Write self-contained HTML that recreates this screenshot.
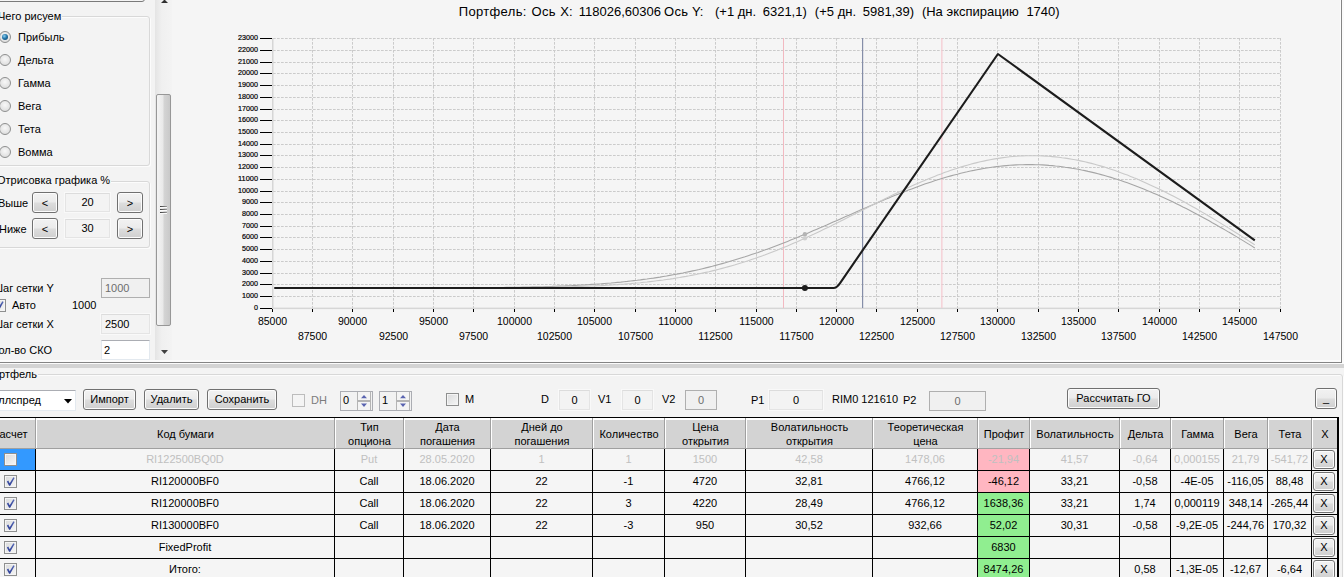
<!DOCTYPE html>
<html><head><meta charset="utf-8"><title>Options</title>
<style>
html,body{margin:0;padding:0}
body{width:1344px;height:577px;overflow:hidden;position:relative;background:#f3f3f3;font-family:"Liberation Sans",sans-serif;font-size:11px;color:#000;line-height:13px}
.abs,.abs *{position:absolute}
#root{position:absolute;left:0;top:0;width:1344px;height:577px;overflow:hidden}
#root>*{position:absolute}
.t{position:absolute;white-space:nowrap}
.tt{font-size:13px;line-height:15px}
.gb{position:absolute;border:1px solid #d8d8d8;border-radius:3px;box-sizing:border-box;box-shadow:inset 1px 1px 0 #fcfcfc,1px 1px 0 #fcfcfc}
.gbl{position:absolute;background:#f3f3f3;white-space:nowrap;padding:0 1px}
.rb{position:absolute;width:12px;height:12px;border-radius:50%;border:1px solid #8e8f8f;box-sizing:border-box;background:radial-gradient(circle at 50% 40%,#f8f8f8 0,#e4e4e4 60%,#d2d2d2 100%)}
.rb.on:after{content:"";position:absolute;left:2px;top:2px;width:6px;height:6px;border-radius:50%;background:radial-gradient(circle at 38% 35%,#8fd0f0 0,#2477ab 45%,#0d3a5c 100%)}
.btn{position:absolute;box-sizing:border-box;border:1px solid #707070;border-radius:3px;background:linear-gradient(#f2f2f2 0,#ebebeb 48%,#dddddd 52%,#cfcfcf 100%);box-shadow:inset 0 0 0 1px #fcfcfc;text-align:center;white-space:nowrap;font-weight:normal}
.tb{position:absolute;box-sizing:border-box;border:1px solid #e3e9ef;border-top-color:#abadb3;background:#fff;white-space:nowrap}
.tb.ro{background:#f3f3f3;border:1px solid #e4e4e4;border-top-color:#dcdcdc;box-shadow:0 0 0 1px #f9f9f9}
.tb.dis{background:#f0f0f0;border:1px solid #afafaf;color:#6d6d6d}
.cb{position:absolute;width:13px;height:13px;box-sizing:border-box;border:1px solid #8e8f8f;background:linear-gradient(135deg,#d9dadb 0,#f6f6f6 100%);box-shadow:inset 0 0 0 1px #f4f4f4}
.cb.on:after{content:"";position:absolute;left:-1px;top:-1px;width:13px;height:13px;background:linear-gradient(#6074bd,#23338f);clip-path:polygon(2.8px 6.6px,4.3px 5.4px,5.7px 8.2px,9.4px 2.2px,10.6px 3.1px,6.2px 10.8px,5.1px 10.8px)}
.tbl{position:absolute;background:#000}
.th{position:absolute;box-sizing:border-box;background:#d3d3d3;border-top:2px solid #fff;border-left:1px solid #fff;display:flex;align-items:center;justify-content:center;text-align:center;line-height:14px;font-size:11px}
.td{position:absolute;background:#f5f5f5;text-align:center;line-height:21px;font-size:11px;white-space:nowrap;overflow:hidden}
.td.dis{color:#c0c0c0}
.spin{position:absolute;width:14px;height:18px;box-sizing:border-box;border-left:1px solid #b4b4b4;border-right:1px solid #b4b4b4;background:#f4f4f4}
.spin:before{content:"";position:absolute;left:0;top:8px;width:12px;height:2px;background:#b4b4b4}
.spin:after{content:"";position:absolute;left:3px;top:3px;width:6px;height:12px;background:#5a64b0;clip-path:polygon(3px 0,6px 3.2px,0 3.2px,3px 0,3px 12px,0 8.6px,6px 8.6px,3px 12px)}
.xb{left:1px;top:1px;width:22px;height:19px;line-height:17px;font-size:11px}
</style></head><body><div id="root">
<!-- chart panel -->
<div style="left:172px;top:0;width:1168px;height:360px;background:#f5f5f5"></div><div style="left:1340px;top:0;width:1px;height:362px;background:#fbfbfb"></div><div style="left:1341px;top:0;width:1px;height:363px;background:#858585"></div><div style="left:1342px;top:0;width:2px;height:364px;background:#fbfbfb"></div>
<svg id="chart" width="1344" height="362" viewBox="0 0 1344 362" style="position:absolute;left:0;top:0">
<g stroke="#cbcbcb" stroke-width="1" stroke-dasharray="2.7,1.3"><line x1="273" x2="1281" y1="308.5" y2="308.5"/><line x1="273" x2="1281" y1="296.5" y2="296.5"/><line x1="273" x2="1281" y1="284.5" y2="284.5"/><line x1="273" x2="1281" y1="273.5" y2="273.5"/><line x1="273" x2="1281" y1="261.5" y2="261.5"/><line x1="273" x2="1281" y1="249.5" y2="249.5"/><line x1="273" x2="1281" y1="237.5" y2="237.5"/><line x1="273" x2="1281" y1="226.5" y2="226.5"/><line x1="273" x2="1281" y1="214.5" y2="214.5"/><line x1="273" x2="1281" y1="202.5" y2="202.5"/><line x1="273" x2="1281" y1="191.5" y2="191.5"/><line x1="273" x2="1281" y1="179.5" y2="179.5"/><line x1="273" x2="1281" y1="167.5" y2="167.5"/><line x1="273" x2="1281" y1="155.5" y2="155.5"/><line x1="273" x2="1281" y1="144.5" y2="144.5"/><line x1="273" x2="1281" y1="132.5" y2="132.5"/><line x1="273" x2="1281" y1="120.5" y2="120.5"/><line x1="273" x2="1281" y1="109.5" y2="109.5"/><line x1="273" x2="1281" y1="97.5" y2="97.5"/><line x1="273" x2="1281" y1="85.5" y2="85.5"/><line x1="273" x2="1281" y1="73.5" y2="73.5"/><line x1="273" x2="1281" y1="62.5" y2="62.5"/><line x1="273" x2="1281" y1="50.5" y2="50.5"/><line x1="273" x2="1281" y1="38.5" y2="38.5"/><line y1="38" y2="308" x1="312.5" x2="312.5"/><line y1="38" y2="308" x1="352.5" x2="352.5"/><line y1="38" y2="308" x1="393.5" x2="393.5"/><line y1="38" y2="308" x1="433.5" x2="433.5"/><line y1="38" y2="308" x1="473.5" x2="473.5"/><line y1="38" y2="308" x1="514.5" x2="514.5"/><line y1="38" y2="308" x1="554.5" x2="554.5"/><line y1="38" y2="308" x1="594.5" x2="594.5"/><line y1="38" y2="308" x1="635.5" x2="635.5"/><line y1="38" y2="308" x1="675.5" x2="675.5"/><line y1="38" y2="308" x1="715.5" x2="715.5"/><line y1="38" y2="308" x1="756.5" x2="756.5"/><line y1="38" y2="308" x1="796.5" x2="796.5"/><line y1="38" y2="308" x1="836.5" x2="836.5"/><line y1="38" y2="308" x1="876.5" x2="876.5"/><line y1="38" y2="308" x1="917.5" x2="917.5"/><line y1="38" y2="308" x1="957.5" x2="957.5"/><line y1="38" y2="308" x1="997.5" x2="997.5"/><line y1="38" y2="308" x1="1038.5" x2="1038.5"/><line y1="38" y2="308" x1="1078.5" x2="1078.5"/><line y1="38" y2="308" x1="1118.5" x2="1118.5"/><line y1="38" y2="308" x1="1159.5" x2="1159.5"/><line y1="38" y2="308" x1="1199.5" x2="1199.5"/><line y1="38" y2="308" x1="1239.5" x2="1239.5"/><line y1="38" y2="308" x1="1280.5" x2="1280.5"/></g>
<rect x="272" y="38" width="1.5" height="271" fill="#d6d6d6"/><rect x="272" y="307.6" width="1009" height="1.5" fill="#d6d6d6"/>
<g fill="#000" shape-rendering="crispEdges"><rect x="260" y="308" width="12" height="1"/><rect x="260" y="296" width="12" height="1"/><rect x="260" y="284" width="12" height="1"/><rect x="260" y="273" width="12" height="1"/><rect x="260" y="261" width="12" height="1"/><rect x="260" y="249" width="12" height="1"/><rect x="260" y="237" width="12" height="1"/><rect x="260" y="226" width="12" height="1"/><rect x="260" y="214" width="12" height="1"/><rect x="260" y="202" width="12" height="1"/><rect x="260" y="191" width="12" height="1"/><rect x="260" y="179" width="12" height="1"/><rect x="260" y="167" width="12" height="1"/><rect x="260" y="155" width="12" height="1"/><rect x="260" y="144" width="12" height="1"/><rect x="260" y="132" width="12" height="1"/><rect x="260" y="120" width="12" height="1"/><rect x="260" y="109" width="12" height="1"/><rect x="260" y="97" width="12" height="1"/><rect x="260" y="85" width="12" height="1"/><rect x="260" y="73" width="12" height="1"/><rect x="260" y="62" width="12" height="1"/><rect x="260" y="50" width="12" height="1"/><rect x="260" y="38" width="12" height="1"/> <rect x="272" y="309" width="1" height="3"/><rect x="312" y="309" width="1" height="3"/><rect x="352" y="309" width="1" height="3"/><rect x="393" y="309" width="1" height="3"/><rect x="433" y="309" width="1" height="3"/><rect x="473" y="309" width="1" height="3"/><rect x="514" y="309" width="1" height="3"/><rect x="554" y="309" width="1" height="3"/><rect x="594" y="309" width="1" height="3"/><rect x="635" y="309" width="1" height="3"/><rect x="675" y="309" width="1" height="3"/><rect x="715" y="309" width="1" height="3"/><rect x="756" y="309" width="1" height="3"/><rect x="796" y="309" width="1" height="3"/><rect x="836" y="309" width="1" height="3"/><rect x="876" y="309" width="1" height="3"/><rect x="917" y="309" width="1" height="3"/><rect x="957" y="309" width="1" height="3"/><rect x="997" y="309" width="1" height="3"/><rect x="1038" y="309" width="1" height="3"/><rect x="1078" y="309" width="1" height="3"/><rect x="1118" y="309" width="1" height="3"/><rect x="1159" y="309" width="1" height="3"/><rect x="1199" y="309" width="1" height="3"/><rect x="1239" y="309" width="1" height="3"/><rect x="1280" y="309" width="1" height="3"/></g>
<g font-family="Liberation Sans, sans-serif" font-size="7.6px" fill="#000" stroke="#000" stroke-width="0.2"><text x="258" y="309.9" text-anchor="end" textLength="4.0" lengthAdjust="spacingAndGlyphs">0</text><text x="258" y="297.9" text-anchor="end" textLength="16.0" lengthAdjust="spacingAndGlyphs">1000</text><text x="258" y="285.9" text-anchor="end" textLength="16.0" lengthAdjust="spacingAndGlyphs">2000</text><text x="258" y="274.9" text-anchor="end" textLength="16.0" lengthAdjust="spacingAndGlyphs">3000</text><text x="258" y="262.9" text-anchor="end" textLength="16.0" lengthAdjust="spacingAndGlyphs">4000</text><text x="258" y="250.9" text-anchor="end" textLength="16.0" lengthAdjust="spacingAndGlyphs">5000</text><text x="258" y="238.9" text-anchor="end" textLength="16.0" lengthAdjust="spacingAndGlyphs">6000</text><text x="258" y="227.9" text-anchor="end" textLength="16.0" lengthAdjust="spacingAndGlyphs">7000</text><text x="258" y="215.9" text-anchor="end" textLength="16.0" lengthAdjust="spacingAndGlyphs">8000</text><text x="258" y="203.9" text-anchor="end" textLength="16.0" lengthAdjust="spacingAndGlyphs">9000</text><text x="258" y="192.9" text-anchor="end" textLength="20.0" lengthAdjust="spacingAndGlyphs">10000</text><text x="258" y="180.9" text-anchor="end" textLength="20.0" lengthAdjust="spacingAndGlyphs">11000</text><text x="258" y="168.9" text-anchor="end" textLength="20.0" lengthAdjust="spacingAndGlyphs">12000</text><text x="258" y="156.9" text-anchor="end" textLength="20.0" lengthAdjust="spacingAndGlyphs">13000</text><text x="258" y="145.9" text-anchor="end" textLength="20.0" lengthAdjust="spacingAndGlyphs">14000</text><text x="258" y="133.9" text-anchor="end" textLength="20.0" lengthAdjust="spacingAndGlyphs">15000</text><text x="258" y="121.9" text-anchor="end" textLength="20.0" lengthAdjust="spacingAndGlyphs">16000</text><text x="258" y="110.9" text-anchor="end" textLength="20.0" lengthAdjust="spacingAndGlyphs">17000</text><text x="258" y="98.9" text-anchor="end" textLength="20.0" lengthAdjust="spacingAndGlyphs">18000</text><text x="258" y="86.9" text-anchor="end" textLength="20.0" lengthAdjust="spacingAndGlyphs">19000</text><text x="258" y="74.9" text-anchor="end" textLength="20.0" lengthAdjust="spacingAndGlyphs">20000</text><text x="258" y="63.9" text-anchor="end" textLength="20.0" lengthAdjust="spacingAndGlyphs">21000</text><text x="258" y="51.9" text-anchor="end" textLength="20.0" lengthAdjust="spacingAndGlyphs">22000</text><text x="258" y="39.9" text-anchor="end" textLength="20.0" lengthAdjust="spacingAndGlyphs">23000</text></g>
<g font-family="Liberation Sans, sans-serif" font-size="10.5px" fill="#000"><text x="272.5" y="324.6" text-anchor="middle">85000</text><text x="312.5" y="340.4" text-anchor="middle">87500</text><text x="352.5" y="324.6" text-anchor="middle">90000</text><text x="393.5" y="340.4" text-anchor="middle">92500</text><text x="433.5" y="324.6" text-anchor="middle">95000</text><text x="473.5" y="340.4" text-anchor="middle">97500</text><text x="514.5" y="324.6" text-anchor="middle">100000</text><text x="554.5" y="340.4" text-anchor="middle">102500</text><text x="594.5" y="324.6" text-anchor="middle">105000</text><text x="635.5" y="340.4" text-anchor="middle">107500</text><text x="675.5" y="324.6" text-anchor="middle">110000</text><text x="715.5" y="340.4" text-anchor="middle">112500</text><text x="756.5" y="324.6" text-anchor="middle">115000</text><text x="796.5" y="340.4" text-anchor="middle">117500</text><text x="836.5" y="324.6" text-anchor="middle">120000</text><text x="876.5" y="340.4" text-anchor="middle">122500</text><text x="917.5" y="324.6" text-anchor="middle">125000</text><text x="957.5" y="340.4" text-anchor="middle">127500</text><text x="997.5" y="324.6" text-anchor="middle">130000</text><text x="1038.5" y="340.4" text-anchor="middle">132500</text><text x="1078.5" y="324.6" text-anchor="middle">135000</text><text x="1118.5" y="340.4" text-anchor="middle">137500</text><text x="1159.5" y="324.6" text-anchor="middle">140000</text><text x="1199.5" y="340.4" text-anchor="middle">142500</text><text x="1239.5" y="324.6" text-anchor="middle">145000</text><text x="1280.5" y="340.4" text-anchor="middle">147500</text></g>
<rect x="783" y="38" width="1" height="270" fill="#f2b9c1"/>
<rect x="941.2" y="38" width="1.3" height="270" fill="#f6ccd3"/>
<rect x="862" y="38" width="1.2" height="270" fill="#858ea8"/>
<path d="M274.3,288.0 L277.6,288.0 L280.9,288.0 L284.2,288.0 L287.4,288.0 L290.7,288.0 L294.0,288.0 L297.2,288.0 L300.5,288.0 L303.8,288.0 L307.0,288.0 L310.3,288.0 L313.6,288.0 L316.8,288.0 L320.1,288.0 L323.4,288.0 L326.6,288.0 L329.9,288.0 L333.2,288.0 L336.4,288.0 L339.7,288.0 L343.0,288.0 L346.2,288.0 L349.5,288.0 L352.8,288.0 L356.1,288.0 L359.3,288.0 L362.6,288.0 L365.9,288.0 L369.1,288.0 L372.4,288.0 L375.7,288.0 L378.9,288.0 L382.2,288.0 L385.5,288.0 L388.7,288.0 L392.0,288.0 L395.3,288.0 L398.5,288.0 L401.8,288.0 L405.1,288.0 L408.3,288.0 L411.6,288.0 L414.9,288.0 L418.2,288.0 L421.4,288.0 L424.7,288.0 L428.0,288.0 L431.2,288.0 L434.5,287.9 L437.8,287.9 L441.0,287.9 L444.3,287.9 L447.6,287.9 L450.8,287.9 L454.1,287.9 L457.4,287.9 L460.6,287.8 L463.9,287.8 L467.2,287.8 L470.4,287.8 L473.7,287.8 L477.0,287.7 L480.2,287.7 L483.5,287.7 L486.8,287.7 L490.1,287.6 L493.3,287.6 L496.6,287.6 L499.9,287.5 L503.1,287.5 L506.4,287.4 L509.7,287.4 L512.9,287.3 L516.2,287.3 L519.5,287.2 L522.7,287.1 L526.0,287.1 L529.3,287.0 L532.5,286.9 L535.8,286.9 L539.1,286.8 L542.3,286.7 L545.6,286.6 L548.9,286.5 L552.2,286.4 L555.4,286.2 L558.7,286.1 L562.0,286.0 L565.2,285.9 L568.5,285.7 L571.8,285.6 L575.0,285.4 L578.3,285.2 L581.6,285.0 L584.8,284.9 L588.1,284.7 L591.4,284.4 L594.6,284.2 L597.9,284.0 L601.2,283.8 L604.4,283.5 L607.7,283.2 L611.0,283.0 L614.2,282.7 L617.5,282.4 L620.8,282.1 L624.1,281.7 L627.3,281.4 L630.6,281.0 L633.9,280.6 L637.1,280.3 L640.4,279.9 L643.7,279.4 L646.9,279.0 L650.2,278.5 L653.5,278.1 L656.7,277.6 L660.0,277.1 L663.3,276.5 L666.5,276.0 L669.8,275.4 L673.1,274.8 L676.3,274.2 L679.6,273.6 L682.9,273.0 L686.1,272.3 L689.4,271.6 L692.7,270.9 L696.0,270.2 L699.2,269.5 L702.5,268.7 L705.8,267.9 L709.0,267.1 L712.3,266.3 L715.6,265.4 L718.8,264.5 L722.1,263.6 L725.4,262.7 L728.6,261.8 L731.9,260.8 L735.2,259.8 L738.4,258.8 L741.7,257.8 L745.0,256.8 L748.2,255.7 L751.5,254.6 L754.8,253.5 L758.1,252.4 L761.3,251.2 L764.6,250.1 L767.9,248.9 L771.1,247.7 L774.4,246.4 L777.7,245.2 L780.9,244.0 L784.2,242.7 L787.5,241.4 L790.7,240.1 L794.0,238.8 L797.3,237.4 L800.5,236.1 L803.8,234.7 L807.1,233.4 L810.3,232.0 L813.6,230.6 L816.9,229.2 L820.1,227.8 L823.4,226.4 L826.7,225.0 L830.0,223.5 L833.2,222.1 L836.5,220.7 L839.8,219.2 L843.0,217.8 L846.3,216.3 L849.6,214.9 L852.8,213.5 L856.1,212.0 L859.4,210.6 L862.6,209.1 L865.9,207.7 L869.2,206.3 L872.4,204.9 L875.7,203.5 L879.0,202.1 L882.2,200.7 L885.5,199.3 L888.8,198.0 L892.1,196.6 L895.3,195.3 L898.6,194.0 L901.9,192.7 L905.1,191.4 L908.4,190.1 L911.7,188.9 L914.9,187.7 L918.2,186.5 L921.5,185.3 L924.7,184.1 L928.0,183.0 L931.3,181.9 L934.5,180.8 L937.8,179.8 L941.1,178.8 L944.3,177.8 L947.6,176.8 L950.9,175.9 L954.1,175.0 L957.4,174.2 L960.7,173.3 L964.0,172.5 L967.2,171.8 L970.5,171.0 L973.8,170.4 L977.0,169.7 L980.3,169.1 L983.6,168.5 L986.8,168.0 L990.1,167.5 L993.4,167.0 L996.6,166.6 L999.9,166.2 L1003.2,165.9 L1006.4,165.6 L1009.7,165.3 L1013.0,165.1 L1016.2,164.9 L1019.5,164.8 L1022.8,164.7 L1026.0,164.6 L1029.3,164.6 L1032.6,164.6 L1035.9,164.7 L1039.1,164.8 L1042.4,164.9 L1045.7,165.1 L1048.9,165.4 L1052.2,165.6 L1055.5,166.0 L1058.7,166.3 L1062.0,166.7 L1065.3,167.2 L1068.5,167.6 L1071.8,168.2 L1075.1,168.7 L1078.3,169.3 L1081.6,170.0 L1084.9,170.6 L1088.1,171.4 L1091.4,172.1 L1094.7,172.9 L1098.0,173.7 L1101.2,174.6 L1104.5,175.5 L1107.8,176.5 L1111.0,177.4 L1114.3,178.4 L1117.6,179.5 L1120.8,180.6 L1124.1,181.7 L1127.4,182.8 L1130.6,184.0 L1133.9,185.2 L1137.2,186.5 L1140.4,187.8 L1143.7,189.1 L1147.0,190.4 L1150.2,191.8 L1153.5,193.2 L1156.8,194.6 L1160.0,196.0 L1163.3,197.5 L1166.6,199.0 L1169.9,200.6 L1173.1,202.1 L1176.4,203.7 L1179.7,205.3 L1182.9,207.0 L1186.2,208.6 L1189.5,210.3 L1192.7,212.0 L1196.0,213.7 L1199.3,215.5 L1202.5,217.2 L1205.8,219.0 L1209.1,220.8 L1212.3,222.7 L1215.6,224.5 L1218.9,226.4 L1222.1,228.2 L1225.4,230.1 L1228.7,232.1 L1232.0,234.0 L1235.2,235.9 L1238.5,237.9 L1241.8,239.9 L1245.0,241.9 L1248.3,243.9 L1251.6,245.9 L1254.8,248.0" fill="none" stroke="#a6a6a6" stroke-width="1.1"/>
<path d="M274.3,288.0 L277.6,288.0 L280.9,288.0 L284.2,288.0 L287.4,288.0 L290.7,288.0 L294.0,288.0 L297.2,288.0 L300.5,288.0 L303.8,288.0 L307.0,288.0 L310.3,288.0 L313.6,288.0 L316.8,288.0 L320.1,288.0 L323.4,288.0 L326.6,288.0 L329.9,288.0 L333.2,288.0 L336.4,288.0 L339.7,288.0 L343.0,288.0 L346.2,288.0 L349.5,288.0 L352.8,288.0 L356.1,288.0 L359.3,288.0 L362.6,288.0 L365.9,288.0 L369.1,288.0 L372.4,288.0 L375.7,288.0 L378.9,288.0 L382.2,288.0 L385.5,288.0 L388.7,288.0 L392.0,288.0 L395.3,288.0 L398.5,288.0 L401.8,288.0 L405.1,288.0 L408.3,288.0 L411.6,288.0 L414.9,288.0 L418.2,288.0 L421.4,288.0 L424.7,288.0 L428.0,288.0 L431.2,288.0 L434.5,288.0 L437.8,288.0 L441.0,288.0 L444.3,288.0 L447.6,288.0 L450.8,288.0 L454.1,288.0 L457.4,288.0 L460.6,288.0 L463.9,288.0 L467.2,288.0 L470.4,288.0 L473.7,287.9 L477.0,287.9 L480.2,287.9 L483.5,287.9 L486.8,287.9 L490.1,287.9 L493.3,287.9 L496.6,287.9 L499.9,287.8 L503.1,287.8 L506.4,287.8 L509.7,287.8 L512.9,287.7 L516.2,287.7 L519.5,287.7 L522.7,287.7 L526.0,287.6 L529.3,287.6 L532.5,287.5 L535.8,287.5 L539.1,287.5 L542.3,287.4 L545.6,287.3 L548.9,287.3 L552.2,287.2 L555.4,287.2 L558.7,287.1 L562.0,287.0 L565.2,286.9 L568.5,286.8 L571.8,286.7 L575.0,286.6 L578.3,286.5 L581.6,286.4 L584.8,286.3 L588.1,286.2 L591.4,286.0 L594.6,285.9 L597.9,285.7 L601.2,285.6 L604.4,285.4 L607.7,285.2 L611.0,285.0 L614.2,284.8 L617.5,284.6 L620.8,284.3 L624.1,284.1 L627.3,283.8 L630.6,283.6 L633.9,283.3 L637.1,283.0 L640.4,282.7 L643.7,282.3 L646.9,282.0 L650.2,281.6 L653.5,281.2 L656.7,280.8 L660.0,280.4 L663.3,280.0 L666.5,279.5 L669.8,279.1 L673.1,278.6 L676.3,278.0 L679.6,277.5 L682.9,276.9 L686.1,276.4 L689.4,275.8 L692.7,275.1 L696.0,274.5 L699.2,273.8 L702.5,273.1 L705.8,272.4 L709.0,271.7 L712.3,270.9 L715.6,270.1 L718.8,269.3 L722.1,268.4 L725.4,267.5 L728.6,266.6 L731.9,265.7 L735.2,264.8 L738.4,263.8 L741.7,262.8 L745.0,261.7 L748.2,260.7 L751.5,259.6 L754.8,258.5 L758.1,257.3 L761.3,256.2 L764.6,255.0 L767.9,253.7 L771.1,252.5 L774.4,251.2 L777.7,249.9 L780.9,248.6 L784.2,247.3 L787.5,245.9 L790.7,244.5 L794.0,243.1 L797.3,241.7 L800.5,240.2 L803.8,238.8 L807.1,237.3 L810.3,235.8 L813.6,234.3 L816.9,232.7 L820.1,231.2 L823.4,229.6 L826.7,228.0 L830.0,226.4 L833.2,224.8 L836.5,223.2 L839.8,221.6 L843.0,219.9 L846.3,218.3 L849.6,216.6 L852.8,215.0 L856.1,213.3 L859.4,211.7 L862.6,210.0 L865.9,208.4 L869.2,206.7 L872.4,205.1 L875.7,203.4 L879.0,201.8 L882.2,200.2 L885.5,198.5 L888.8,196.9 L892.1,195.3 L895.3,193.8 L898.6,192.2 L901.9,190.7 L905.1,189.1 L908.4,187.6 L911.7,186.1 L914.9,184.6 L918.2,183.2 L921.5,181.8 L924.7,180.4 L928.0,179.0 L931.3,177.7 L934.5,176.4 L937.8,175.1 L941.1,173.9 L944.3,172.6 L947.6,171.5 L950.9,170.3 L954.1,169.2 L957.4,168.2 L960.7,167.1 L964.0,166.1 L967.2,165.2 L970.5,164.3 L973.8,163.4 L977.0,162.6 L980.3,161.8 L983.6,161.1 L986.8,160.4 L990.1,159.7 L993.4,159.1 L996.6,158.6 L999.9,158.1 L1003.2,157.6 L1006.4,157.2 L1009.7,156.8 L1013.0,156.5 L1016.2,156.3 L1019.5,156.0 L1022.8,155.9 L1026.0,155.8 L1029.3,155.7 L1032.6,155.7 L1035.9,155.7 L1039.1,155.8 L1042.4,155.9 L1045.7,156.1 L1048.9,156.3 L1052.2,156.6 L1055.5,156.9 L1058.7,157.2 L1062.0,157.7 L1065.3,158.1 L1068.5,158.6 L1071.8,159.2 L1075.1,159.8 L1078.3,160.4 L1081.6,161.1 L1084.9,161.8 L1088.1,162.6 L1091.4,163.4 L1094.7,164.3 L1098.0,165.2 L1101.2,166.1 L1104.5,167.1 L1107.8,168.2 L1111.0,169.2 L1114.3,170.3 L1117.6,171.5 L1120.8,172.7 L1124.1,173.9 L1127.4,175.1 L1130.6,176.4 L1133.9,177.8 L1137.2,179.1 L1140.4,180.5 L1143.7,181.9 L1147.0,183.4 L1150.2,184.9 L1153.5,186.4 L1156.8,187.9 L1160.0,189.5 L1163.3,191.1 L1166.6,192.8 L1169.9,194.4 L1173.1,196.1 L1176.4,197.8 L1179.7,199.6 L1182.9,201.3 L1186.2,203.1 L1189.5,204.9 L1192.7,206.7 L1196.0,208.6 L1199.3,210.5 L1202.5,212.4 L1205.8,214.3 L1209.1,216.2 L1212.3,218.1 L1215.6,220.1 L1218.9,222.1 L1222.1,224.1 L1225.4,226.1 L1228.7,228.1 L1232.0,230.2 L1235.2,232.2 L1238.5,234.3 L1241.8,236.4 L1245.0,238.5 L1248.3,240.6 L1251.6,242.7 L1254.8,244.9" fill="none" stroke="#c9c9c9" stroke-width="1.1"/>
<path d="M274.3,288.0 L833.5,288.0 Q836.7,288.0 839.9,283.3 L997.9,54.0 L1254.8,240.3" fill="none" stroke="#1c1c1c" stroke-width="2.1" stroke-linejoin="round"/>
<circle cx="804.9" cy="234.3" r="2.2" fill="#b4b4b4"/><circle cx="804.9" cy="238.3" r="2.2" fill="#cfcfcf"/>
<circle cx="804.9" cy="288.0" r="3" fill="#1c1c1c"/>
</svg>
<div class="t tt" style="left:458.8px;top:4px;letter-spacing:.33px">Портфель:</div><div class="t tt" style="left:531.4px;top:4px;letter-spacing:.4px">Ось</div><div class="t tt" style="left:560.3px;top:4px">X:</div><div class="t tt" style="left:578.8px;top:4px">118026,60306</div><div class="t tt" style="left:663.9px;top:4px;letter-spacing:.4px">Ось</div><div class="t tt" style="left:691.9px;top:4px">Y:</div><div class="t tt" style="left:715.0px;top:4px">(+1</div><div class="t tt" style="left:737.7px;top:4px">дн.</div><div class="t tt" style="left:762.7px;top:4px">6321,1)</div><div class="t tt" style="left:814.8px;top:4px">(+5</div><div class="t tt" style="left:837.7px;top:4px">дн.</div><div class="t tt" style="left:862.7px;top:4px">5981,39)</div><div class="t tt" style="left:921.9px;top:4px">(На</div><div class="t tt" style="left:946.6px;top:4px">экспирацию</div><div class="t tt" style="left:1026.4px;top:4px">1740)</div>

<!-- left panel -->
<div style="left:-5px;top:-13px;width:148px;height:13px;border:1px solid #7a7a7a;border-radius:3px;background:#f4f4f4"></div>
<div class="gb" style="left:-8px;top:16px;width:158px;height:150px"></div>
<div class="gbl" style="left:-3px;top:10px">Чего рисуем</div>
<i class="rb on" style="left:-1px;top:31px"></i><div class="t" style="left:18px;top:31px">Прибыль</div>
<i class="rb" style="left:-1px;top:54px"></i><div class="t" style="left:18px;top:54px">Дельта</div>
<i class="rb" style="left:-1px;top:77px"></i><div class="t" style="left:18px;top:77px">Гамма</div>
<i class="rb" style="left:-1px;top:100px"></i><div class="t" style="left:18px;top:100px">Вега</div>
<i class="rb" style="left:-1px;top:123px"></i><div class="t" style="left:18px;top:123px">Тета</div>
<i class="rb" style="left:-1px;top:146px"></i><div class="t" style="left:18px;top:146px">Вомма</div>

<div class="gb" style="left:-8px;top:181px;width:158px;height:67px"></div>
<div class="gbl" style="left:-4px;top:174px">Отрисовка графика %</div>
<div class="t" style="left:-2px;top:197px">Выше</div>
<b class="btn" style="left:32px;top:192px;width:26px;height:21px;line-height:21px">&lt;</b>
<div class="tb ro" style="left:65px;top:193px;width:45px;height:19px;line-height:17px;text-align:center">20</div>
<b class="btn" style="left:117px;top:192px;width:26px;height:21px;line-height:21px">&gt;</b>
<div class="t" style="left:-1px;top:223px">Ниже</div>
<b class="btn" style="left:32px;top:218px;width:26px;height:21px;line-height:21px">&lt;</b>
<div class="tb ro" style="left:65px;top:219px;width:45px;height:19px;line-height:17px;text-align:center">30</div>
<b class="btn" style="left:117px;top:218px;width:26px;height:21px;line-height:21px">&gt;</b>

<div class="t" style="left:-7px;top:282px">Шаг сетки Y</div>
<div class="tb dis" style="left:101px;top:278px;width:49px;height:20px;line-height:18px;padding-left:3px">1000</div>
<i class="cb on" style="left:-7px;top:299px"></i><div class="t" style="left:12px;top:299px">Авто</div>
<div class="t" style="left:72px;top:299px">1000</div>
<div class="t" style="left:-7px;top:318px">Шаг сетки X</div>
<div class="tb ro" style="left:101px;top:314px;width:49px;height:20px;line-height:18px;padding-left:3px">2500</div>
<div class="t" style="left:-8px;top:344px">Кол-во СКО</div>
<div class="tb" style="left:101px;top:340px;width:49px;height:20px;line-height:18px;padding-left:2px">2</div>

<!-- vertical scrollbar -->
<div style="left:155px;top:0;width:17px;height:360px;background:linear-gradient(90deg,#e4e4e4,#f0f0f0 40%,#f3f3f3)"></div>
<div style="left:156px;top:94px;width:15px;height:232px;box-sizing:border-box;border:1px solid #979797;border-radius:2px;background:linear-gradient(90deg,#f4f4f4 0,#e9e9e9 45%,#d4d4d4 55%,#c9c9c9 100%)"></div>
<div style="left:160px;top:206px;width:7px;height:1px;background:linear-gradient(90deg,#3c3c3c,#9a9a9a);box-shadow:0 1px 0 #fafafa"></div><div style="left:160px;top:209px;width:7px;height:1px;background:linear-gradient(90deg,#3c3c3c,#9a9a9a);box-shadow:0 1px 0 #fafafa"></div><div style="left:160px;top:212px;width:7px;height:1px;background:linear-gradient(90deg,#3c3c3c,#9a9a9a);box-shadow:0 1px 0 #fafafa"></div>
<svg style="left:161px;top:0" width="7" height="4"><path d="M0,3 L3.5,-0.5 L7,3z" fill="#303030"/></svg>
<svg style="left:161px;top:350px" width="7" height="5"><path d="M0,0 L7,0 L3.5,4z" fill="#404040"/></svg>

<!-- splitter + bottom group -->
<div style="left:0;top:360px;width:1341px;height:2px;background:#fbfbfb"></div>
<div style="left:0;top:362px;width:1342px;height:1px;background:#858585"></div>
<div style="left:0;top:363px;width:1344px;height:1px;background:#fbfbfb"></div>
<div style="left:0;top:364px;width:1344px;height:4px;background:#d4d4d4"></div>
<div style="left:0;top:368px;width:1344px;height:6px;background:#f4f4f4"></div>
<div class="gb" style="left:-8px;top:374px;width:1351px;height:220px"></div>
<div class="gbl" style="left:-16px;top:370px;height:10px;line-height:9px">Портфель</div>

<div class="tb" style="left:-10px;top:390px;width:86px;height:21px;border:1px solid #e3e9ef;border-top-color:#abadb3"></div>
<div class="t" style="left:-14px;top:394px">Коллспред</div>
<svg style="left:64px;top:399px" width="8" height="5"><path d="M0,0 L8,0 L4,4.5z" fill="#000"/></svg>
<b class="btn" style="left:83px;top:389px;width:53px;height:21px;line-height:19px">Импорт</b>
<b class="btn" style="left:144px;top:389px;width:55px;height:21px;line-height:19px">Удалить</b>
<b class="btn" style="left:207px;top:389px;width:70px;height:21px;line-height:19px">Сохранить</b>
<i class="cb" style="left:292px;top:394px;border-color:#bcbcbc;background:#f4f4f4"></i><div class="t" style="left:311px;top:394px;color:#7c7c7c">DH</div>
<div class="tb" style="left:340px;top:391px;width:33px;height:20px;border:1px solid #abadb3;background:#f2f2f2;line-height:17px;padding-left:2px">0</div>
<div class="tb" style="left:379px;top:391px;width:33px;height:20px;border:1px solid #abadb3;background:#f2f2f2;line-height:17px;padding-left:2px">1</div>
<div class="spin" style="left:357px;top:392px"></div><div class="spin" style="left:396px;top:392px"></div>
<i class="cb" style="left:446px;top:393px"></i><div class="t" style="left:465px;top:393px">M</div>
<div class="t" style="left:541px;top:393px">D</div>
<div class="tb ro" style="left:559px;top:390px;width:31px;height:20px;line-height:18px;text-align:center">0</div>
<div class="t" style="left:598px;top:393px">V1</div>
<div class="tb ro" style="left:622px;top:390px;width:31px;height:20px;line-height:18px;text-align:center">0</div>
<div class="t" style="left:662px;top:393px">V2</div>
<div class="tb dis" style="left:685px;top:390px;width:32px;height:20px;line-height:18px;text-align:center">0</div>
<div class="t" style="left:751px;top:394px">P1</div>
<div class="tb ro" style="left:769px;top:390px;width:54px;height:20px;line-height:18px;text-align:center">0</div>
<div class="t" style="left:832px;top:393px">RIM0 121610</div>
<div class="t" style="left:903px;top:394px">P2</div>
<div class="tb dis" style="left:929px;top:391px;width:57px;height:20px;line-height:18px;text-align:center">0</div>
<b class="btn" style="left:1067px;top:388px;width:93px;height:21px;line-height:19px">Рассчитать ГО</b>
<b class="btn" style="left:1315px;top:388px;width:22px;height:21px;line-height:19px">_</b>
<div class="tbl" style="left:-10px;top:417px;width:1349px;height:170px"></div>
<div style="left:-9px;top:418px;width:1346px;height:31px;background:#a0a0a0"></div>
<div class="th" style="left:-16px;top:418px;width:51px;height:30px"><span>Расчет</span></div>
<div class="th" style="left:36px;top:418px;width:298px;height:30px"><span>Код бумаги</span></div>
<div class="th" style="left:335px;top:418px;width:68px;height:30px"><span>Тип<br>опциона</span></div>
<div class="th" style="left:404px;top:418px;width:86px;height:30px"><span>Дата<br>погашения</span></div>
<div class="th" style="left:491px;top:418px;width:101px;height:30px"><span>Дней до<br>погашения</span></div>
<div class="th" style="left:593px;top:418px;width:71px;height:30px"><span>Количество</span></div>
<div class="th" style="left:665px;top:418px;width:80px;height:30px"><span>Цена<br>открытия</span></div>
<div class="th" style="left:746px;top:418px;width:126px;height:30px"><span>Волатильность<br>открытия</span></div>
<div class="th" style="left:873px;top:418px;width:104px;height:30px"><span>Теоретическая<br>цена</span></div>
<div class="th" style="left:978px;top:418px;width:51px;height:30px"><span>Профит</span></div>
<div class="th" style="left:1030px;top:418px;width:89px;height:30px"><span>Волатильность</span></div>
<div class="th" style="left:1120px;top:418px;width:50px;height:30px"><span>Дельта</span></div>
<div class="th" style="left:1171px;top:418px;width:52px;height:30px"><span>Гамма</span></div>
<div class="th" style="left:1224px;top:418px;width:43px;height:30px"><span>Вега</span></div>
<div class="th" style="left:1268px;top:418px;width:43px;height:30px"><span>Тета</span></div>
<div class="th" style="left:1312px;top:418px;width:25px;height:30px"><span>X</span></div>
<div class="td" style="left:0;top:449px;width:35px;height:21px;background:#3399ff"><i class="cb" style="left:4px;top:4px"></i></div>
<div class="td dis" style="left:36px;top:449px;width:298px;height:21px">RI122500BQ0D</div>
<div class="td dis" style="left:335px;top:449px;width:68px;height:21px">Put</div>
<div class="td dis" style="left:404px;top:449px;width:86px;height:21px">28.05.2020</div>
<div class="td dis" style="left:491px;top:449px;width:101px;height:21px">1</div>
<div class="td dis" style="left:593px;top:449px;width:71px;height:21px">1</div>
<div class="td dis" style="left:665px;top:449px;width:80px;height:21px">1500</div>
<div class="td dis" style="left:746px;top:449px;width:126px;height:21px">42,58</div>
<div class="td dis" style="left:873px;top:449px;width:104px;height:21px">1478,06</div>
<div class="td dis" style="left:978px;top:449px;width:51px;height:21px;background:#ffb6c1">-21,94</div>
<div class="td dis" style="left:1030px;top:449px;width:89px;height:21px">41,57</div>
<div class="td dis" style="left:1120px;top:449px;width:50px;height:21px">-0,64</div>
<div class="td dis" style="left:1171px;top:449px;width:52px;height:21px">0,000155</div>
<div class="td dis" style="left:1224px;top:449px;width:43px;height:21px">21,79</div>
<div class="td dis" style="left:1268px;top:449px;width:43px;height:21px">-541,72</div>
<div class="td" style="left:1312px;top:449px;width:25px;height:21px"><b class="btn xb">X</b></div>
<div class="td" style="left:0;top:471px;width:35px;height:21px;background:#f5f5f5"><i class="cb on" style="left:4px;top:4px"></i></div>
<div class="td" style="left:36px;top:471px;width:298px;height:21px">RI120000BF0</div>
<div class="td" style="left:335px;top:471px;width:68px;height:21px">Call</div>
<div class="td" style="left:404px;top:471px;width:86px;height:21px">18.06.2020</div>
<div class="td" style="left:491px;top:471px;width:101px;height:21px">22</div>
<div class="td" style="left:593px;top:471px;width:71px;height:21px">-1</div>
<div class="td" style="left:665px;top:471px;width:80px;height:21px">4720</div>
<div class="td" style="left:746px;top:471px;width:126px;height:21px">32,81</div>
<div class="td" style="left:873px;top:471px;width:104px;height:21px">4766,12</div>
<div class="td" style="left:978px;top:471px;width:51px;height:21px;background:#ffb6c1">-46,12</div>
<div class="td" style="left:1030px;top:471px;width:89px;height:21px">33,21</div>
<div class="td" style="left:1120px;top:471px;width:50px;height:21px">-0,58</div>
<div class="td" style="left:1171px;top:471px;width:52px;height:21px">-4E-05</div>
<div class="td" style="left:1224px;top:471px;width:43px;height:21px">-116,05</div>
<div class="td" style="left:1268px;top:471px;width:43px;height:21px">88,48</div>
<div class="td" style="left:1312px;top:471px;width:25px;height:21px"><b class="btn xb">X</b></div>
<div class="td" style="left:0;top:493px;width:35px;height:21px;background:#f5f5f5"><i class="cb on" style="left:4px;top:4px"></i></div>
<div class="td" style="left:36px;top:493px;width:298px;height:21px">RI120000BF0</div>
<div class="td" style="left:335px;top:493px;width:68px;height:21px">Call</div>
<div class="td" style="left:404px;top:493px;width:86px;height:21px">18.06.2020</div>
<div class="td" style="left:491px;top:493px;width:101px;height:21px">22</div>
<div class="td" style="left:593px;top:493px;width:71px;height:21px">3</div>
<div class="td" style="left:665px;top:493px;width:80px;height:21px">4220</div>
<div class="td" style="left:746px;top:493px;width:126px;height:21px">28,49</div>
<div class="td" style="left:873px;top:493px;width:104px;height:21px">4766,12</div>
<div class="td" style="left:978px;top:493px;width:51px;height:21px;background:#90ee90">1638,36</div>
<div class="td" style="left:1030px;top:493px;width:89px;height:21px">33,21</div>
<div class="td" style="left:1120px;top:493px;width:50px;height:21px">1,74</div>
<div class="td" style="left:1171px;top:493px;width:52px;height:21px">0,000119</div>
<div class="td" style="left:1224px;top:493px;width:43px;height:21px">348,14</div>
<div class="td" style="left:1268px;top:493px;width:43px;height:21px">-265,44</div>
<div class="td" style="left:1312px;top:493px;width:25px;height:21px"><b class="btn xb">X</b></div>
<div class="td" style="left:0;top:515px;width:35px;height:21px;background:#f5f5f5"><i class="cb on" style="left:4px;top:4px"></i></div>
<div class="td" style="left:36px;top:515px;width:298px;height:21px">RI130000BF0</div>
<div class="td" style="left:335px;top:515px;width:68px;height:21px">Call</div>
<div class="td" style="left:404px;top:515px;width:86px;height:21px">18.06.2020</div>
<div class="td" style="left:491px;top:515px;width:101px;height:21px">22</div>
<div class="td" style="left:593px;top:515px;width:71px;height:21px">-3</div>
<div class="td" style="left:665px;top:515px;width:80px;height:21px">950</div>
<div class="td" style="left:746px;top:515px;width:126px;height:21px">30,52</div>
<div class="td" style="left:873px;top:515px;width:104px;height:21px">932,66</div>
<div class="td" style="left:978px;top:515px;width:51px;height:21px;background:#90ee90">52,02</div>
<div class="td" style="left:1030px;top:515px;width:89px;height:21px">30,31</div>
<div class="td" style="left:1120px;top:515px;width:50px;height:21px">-0,58</div>
<div class="td" style="left:1171px;top:515px;width:52px;height:21px">-9,2E-05</div>
<div class="td" style="left:1224px;top:515px;width:43px;height:21px">-244,76</div>
<div class="td" style="left:1268px;top:515px;width:43px;height:21px">170,32</div>
<div class="td" style="left:1312px;top:515px;width:25px;height:21px"><b class="btn xb">X</b></div>
<div class="td" style="left:0;top:537px;width:35px;height:21px;background:#f5f5f5"><i class="cb on" style="left:4px;top:4px"></i></div>
<div class="td" style="left:36px;top:537px;width:298px;height:21px">FixedProfit</div>
<div class="td" style="left:335px;top:537px;width:68px;height:21px"></div>
<div class="td" style="left:404px;top:537px;width:86px;height:21px"></div>
<div class="td" style="left:491px;top:537px;width:101px;height:21px"></div>
<div class="td" style="left:593px;top:537px;width:71px;height:21px"></div>
<div class="td" style="left:665px;top:537px;width:80px;height:21px"></div>
<div class="td" style="left:746px;top:537px;width:126px;height:21px"></div>
<div class="td" style="left:873px;top:537px;width:104px;height:21px"></div>
<div class="td" style="left:978px;top:537px;width:51px;height:21px;background:#90ee90">6830</div>
<div class="td" style="left:1030px;top:537px;width:89px;height:21px"></div>
<div class="td" style="left:1120px;top:537px;width:50px;height:21px"></div>
<div class="td" style="left:1171px;top:537px;width:52px;height:21px"></div>
<div class="td" style="left:1224px;top:537px;width:43px;height:21px"></div>
<div class="td" style="left:1268px;top:537px;width:43px;height:21px"></div>
<div class="td" style="left:1312px;top:537px;width:25px;height:21px"><b class="btn xb">X</b></div>
<div class="td" style="left:0;top:559px;width:35px;height:21px;background:#f5f5f5"><i class="cb on" style="left:4px;top:4px"></i></div>
<div class="td" style="left:36px;top:559px;width:298px;height:21px">Итого:</div>
<div class="td" style="left:335px;top:559px;width:68px;height:21px"></div>
<div class="td" style="left:404px;top:559px;width:86px;height:21px"></div>
<div class="td" style="left:491px;top:559px;width:101px;height:21px"></div>
<div class="td" style="left:593px;top:559px;width:71px;height:21px"></div>
<div class="td" style="left:665px;top:559px;width:80px;height:21px"></div>
<div class="td" style="left:746px;top:559px;width:126px;height:21px"></div>
<div class="td" style="left:873px;top:559px;width:104px;height:21px"></div>
<div class="td" style="left:978px;top:559px;width:51px;height:21px;background:#90ee90">8474,26</div>
<div class="td" style="left:1030px;top:559px;width:89px;height:21px"></div>
<div class="td" style="left:1120px;top:559px;width:50px;height:21px">0,58</div>
<div class="td" style="left:1171px;top:559px;width:52px;height:21px">-1,3E-05</div>
<div class="td" style="left:1224px;top:559px;width:43px;height:21px">-12,67</div>
<div class="td" style="left:1268px;top:559px;width:43px;height:21px">-6,64</div>
<div class="td" style="left:1312px;top:559px;width:25px;height:21px"><b class="btn xb">X</b></div>
</div></body></html>
